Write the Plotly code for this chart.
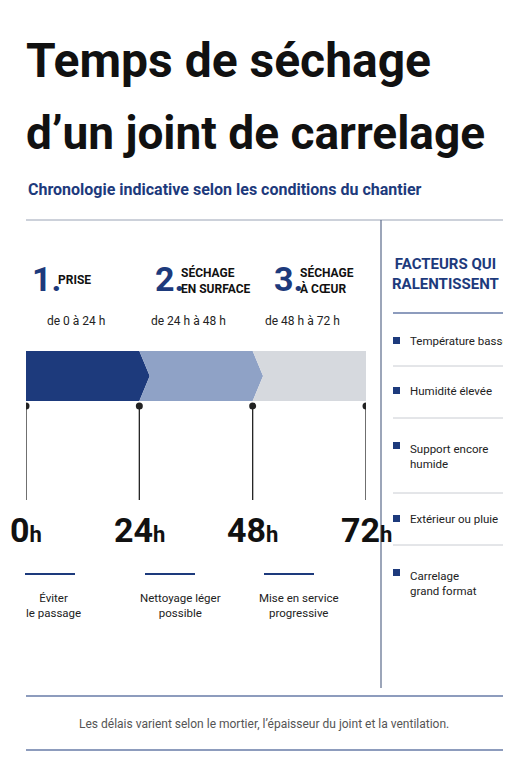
import plotly.graph_objects as go

# data
phase_num = ["1.", "2.", "3."]
phase_name = ["PRISE", "SÉCHAGE<br>EN SURFACE", "SÉCHAGE<br>À CŒUR"]
phase_range = ["de 0 à 24 h", "de 24 h à 48 h", "de 48 h à 72 h"]
phase_start = [0, 24, 48]
phase_end = [24, 48, 72]
phase_color = ["#1d3a7c", "#8fa2c6", "#d6d9de"]
hours = [0, 24, 48, 72]
notes = ["Éviter<br>le passage", "Nettoyage léger<br>possible", "Mise en service<br>progressive"]
factors = ["Température basse", "Humidité élevée", "Support encore<br>humide",
           "Extérieur ou pluie", "Carrelage<br>grand format"]
factor_y = [333, 383, 448, 511, 575]

NAVY = "#1d3a7c"
DARK = "#111111"
LINE = "#c9ccd2"
COND = "Roboto"
W = 511.0


def px(x):
    return x / W


fig = go.Figure()
shapes = []
ann = []


def text(x, y, t, size, color="#222", family="Roboto", xanchor="center", align="center"):
    ann.append(dict(x=px(x), xref="paper", y=y, yref="y", text=t, xanchor=xanchor, yanchor="middle",
                    align=align, font=dict(size=size, color=color, family=family), showarrow=False))


def hline(x0, x1, y, color, width=1):
    shapes.append(dict(type="line", xref="paper", yref="y", x0=px(x0), x1=px(x1), y0=y, y1=y,
                       line=dict(color=color, width=width)))


# title block
text(16, 52, "<b>Temps de séchage</b>", 48, DARK, COND, "left")
text(16, 125, "<b>d’un joint de carrelage</b>", 46, DARK, COND, "left")
text(18, 181, "<b>Chronologie indicative selon les conditions du chantier</b>", 16, NAVY, "Roboto", "left")

# frame lines
hline(18, 495, 212, "#9aa3b5")
shapes.append(dict(type="line", xref="paper", yref="y", x0=px(373), x1=px(373), y0=212, y1=680,
                   line=dict(color="#5a6a8a", width=1.2)))
hline(18, 495, 688, NAVY, 1.2)
hline(18, 495, 742, NAVY, 1.2)

# chevrons on the timeline axis (x2 in hours)
tip = 2.2
for i, (s, e, c) in enumerate(zip(phase_start, phase_end, phase_color)):
    if i == 0:
        p = f"M {s},343 L {e},343 L {e+tip},368 L {e},393 L {s},393 Z"
    else:
        p = f"M {s},343 L {e},343 L {e+tip},368 L {e},393 L {s},393 L {s+tip},368 Z"
    shapes.append(dict(type="path", path=p, xref="x2", yref="y", fillcolor=c, line=dict(width=0),
                       layer="below"))

# phase labels
num_x = [22, 145, 264]
for i in range(3):
    text(num_x[i], 271, f"<b>{phase_num[i]}</b>", 34, NAVY, COND, "left")
    text(num_x[i] + 26, 272, f"<b>{phase_name[i]}</b>", 12, DARK, COND, "left", "left")
    ann.append(dict(x=(phase_start[i] + phase_end[i]) / 2 - 1.5, xref="x2", y=313, text=phase_range[i],
                    yanchor="middle", font=dict(size=12, color="#222", family="Roboto"), showarrow=False))

# hour markers
for h in hours:
    shapes.append(dict(type="line", xref="x2", x0=h, x1=h, y0=398, y1=492,
                       line=dict(color="#222", width=1.3)))
fig.add_trace(go.Scatter(x=hours, y=[398] * 4, xaxis="x2", yaxis="y", mode="markers",
                         marker=dict(color="#222", size=7), hoverinfo="skip", showlegend=False))
for h in hours:
    ann.append(dict(x=h, xref="x2", y=522, text=f"<b>{h}</b><span style='font-size:22px'><b>h</b></span>",
                    yanchor="middle", font=dict(size=34, color=DARK, family=COND), showarrow=False))

# notes under hours
note_x = [42, 162, 281]
for i in range(3):
    hline(note_x[i] - 25, note_x[i] + 25, 566, NAVY, 2)
    text(note_x[i] + (10 if i > 0 else 3), 597, notes[i], 11.5)

# right panel
text(437, 266, "<b>FACTEURS QUI<br>RALENTISSENT</b>", 15, NAVY, COND)
hline(385, 495, 305, NAVY, 1.2)
for sep in [358, 410, 485, 537]:
    hline(385, 495, sep, LINE)
for t, y in zip(factors, factor_y):
    first_y = y - 10 if "<br>" in t else y
    shapes.append(dict(type="rect", xref="paper", yref="y", x0=px(385), x1=px(392),
                       y0=first_y - 4, y1=first_y + 3, fillcolor=NAVY, line=dict(width=0)))
    text(400, y, t, 11.5, "#222", "Roboto", "left", "left")

# footer
text(256, 716, "Les délais varient selon le mortier, l’épaisseur du joint et la ventilation.", 12, "#555")

fig.update_layout(
    width=511, height=768, margin=dict(l=0, r=0, t=0, b=0),
    paper_bgcolor="white", plot_bgcolor="white",
    xaxis=dict(range=[0, 511], visible=False, fixedrange=True),
    xaxis2=dict(domain=[18 / 511, 358 / 511], range=[0, 72], visible=False, anchor="y"),
    yaxis=dict(range=[768, 0], visible=False, fixedrange=True),
    shapes=shapes, annotations=ann,
)
fig.write_html("out.html", config={"displayModeBar": False})
